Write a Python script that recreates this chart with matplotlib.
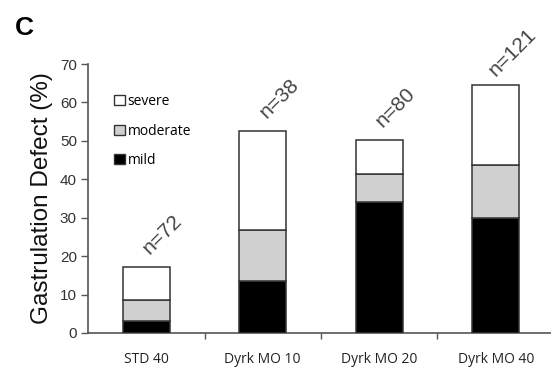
import matplotlib
matplotlib.use("Agg")
import matplotlib.pyplot as plt
from matplotlib.patches import Patch
import numpy as np

categories = ["STD 40", "Dyrk MO 10", "Dyrk MO 20", "Dyrk MO 40"]
mild = [3.0, 13.5, 34.0, 30.0]
moderate = [5.5, 13.2, 7.5, 13.8]
severe = [8.6, 25.8, 8.6, 20.8]
n_labels = ["n=72", "n=38", "n=80", "n=121"]

fig = plt.figure(figsize=(5.51, 3.77), dpi=100)
ax = fig.add_axes([88/551, 44/377, 463/551, 269/377])

x = np.arange(len(categories))
w = 0.40
ec = "#333333"
lw = 1.1
bottom = np.zeros(len(categories))
ax.bar(x, mild, w, color="black", edgecolor=ec, linewidth=lw, label="mild", zorder=3)
bottom += np.array(mild)
ax.bar(x, moderate, w, bottom=bottom, color="#d0d0d0", edgecolor=ec, linewidth=lw,
       label="moderate", zorder=3)
bottom += np.array(moderate)
ax.bar(x, severe, w, bottom=bottom, color="white", edgecolor=ec, linewidth=lw,
       label="severe", zorder=3)
bottom += np.array(severe)

for xi, top, lab in zip(x, bottom, n_labels):
    ax.text(xi + 0.14, top + 8.5, lab, rotation=45, ha="center", va="center",
            fontsize=15, color="#444444", family="Liberation Sans")

ax.set_xlim(-0.5, -0.5 + 463/116.5)
ax.set_ylim(0, 70)
ax.set_yticks(range(0, 71, 10))
ax.set_xticks(x)
ax.set_xticklabels(categories, fontsize=10, color="#222222", family="Open Sans")
ax.tick_params(axis="x", length=0, pad=14)
ax.set_xticks([0.5, 1.5, 2.5], minor=True)
ax.tick_params(axis="x", which="minor", length=4, direction="out", color="#555555", width=1)
ax.tick_params(axis="y", length=5, direction="out", color="#555555", width=1,
               labelsize=11, labelcolor="#333333", pad=3)
for lab in ax.get_yticklabels():
    lab.set_family("Liberation Sans")

for s in ["top", "right"]:
    ax.spines[s].set_visible(False)
for s in ["left", "bottom"]:
    ax.spines[s].set_color("#555555")
    ax.spines[s].set_linewidth(1.2)

ax.set_ylabel("Gastrulation Defect (%)", fontsize=17.5, family="Liberation Sans",
              color="#111111", labelpad=5)

handles = [Patch(facecolor="white", edgecolor=ec, label="severe"),
           Patch(facecolor="#d0d0d0", edgecolor=ec, label="moderate"),
           Patch(facecolor="black", edgecolor=ec, label="mild")]
ax.legend(handles=handles, loc="upper left", bbox_to_anchor=(0.03, 0.935),
          frameon=False, handlelength=0.75, handleheight=0.75, handletextpad=0.2,
          labelspacing=1.05, prop={"family": "Open Sans", "size": 10})

fig.text(15/551, 1 - 35/377, "C", fontsize=19, fontweight="bold",
         family="Liberation Sans", color="black")

fig.savefig("out.png", dpi=100)
